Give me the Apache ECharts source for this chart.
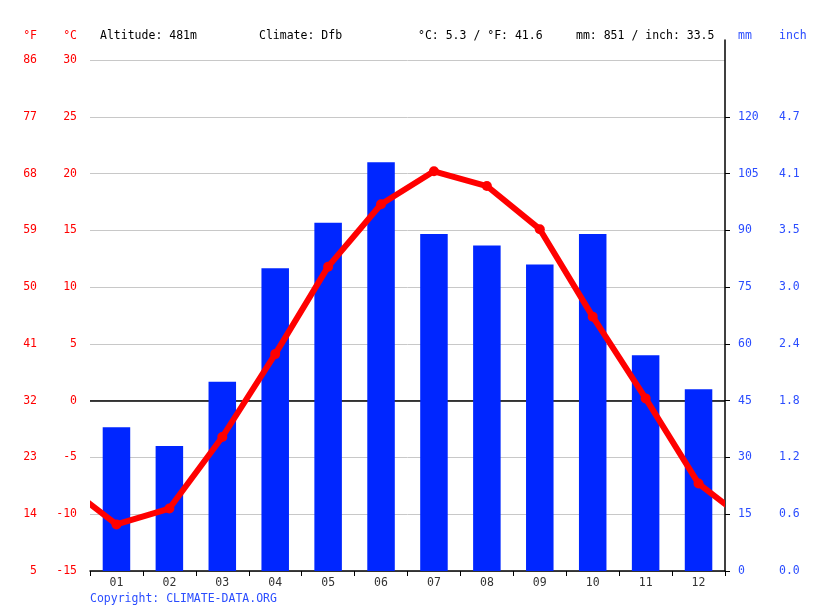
<!DOCTYPE html>
<html>
<head>
<meta charset="utf-8">
<style>
  html, body { margin: 0; padding: 0; background: #fff; }
  #chart { width: 815px; height: 611px; }
</style>
<script src="https://cdn.jsdelivr.net/npm/echarts@6/dist/echarts.min.js"></script>
</head>
<body>
<div id="chart"></div>
<script>
const months = ['01','02','03','04','05','06','07','08','09','10','11','12'];
const precipitationMm = [38, 33, 50, 80, 92, 108, 89, 86, 81, 89, 57, 48];
const temperatureC = [-10.9, -9.5, -3.2, 4.1, 11.8, 17.3, 20.2, 18.9, 15.1, 7.4, 0.2, -7.3];
const fahrenheitLabels = ['5','14','23','32','41','50','59','68','77','86'];
const celsiusLabels = ['-15','-10','-5','0','5','10','15','20','25','30'];
const mmLabels = ['0','15','30','45','60','75','90','105','120'];
const inchLabels = ['0.0','0.6','1.2','1.8','2.4','3.0','3.5','4.1','4.7'];
const headerTexts = ['Altitude: 481m', 'Climate: Dfb', '°C: 5.3 / °F: 41.6', 'mm: 851 / inch: 33.5'];
const copyrightText = 'Copyright: CLIMATE-DATA.ORG';

const FONT = 'DejaVu Sans Mono';
const FS = 11.5;
const RED = '#ff0000';
const BLUE = '#0026ff';
const LABEL_BLUE = '#2b4dff';
const LINE_W = 6;

// plot geometry
const GL = 90, GR = 90, GT = 60, GB = 40, W = 815;
const plotW = W - GL - GR;
const unitPx = plotW / 12;
const inset = LINE_W / 2; // the line's clip rect grows by half the line width; shrink its grid so it clips at the plot edge
const insetUnits = inset / unitPx;

// line points on a 0..12 value axis (category centres at i+0.5), wrapped with Dec before Jan and Jan after Dec, clipped at the edges
const linePoints = [[-0.5, temperatureC[11]]]
  .concat(temperatureC.map((t, i) => [i + 0.5, t]))
  .concat([[12.5, temperatureC[0]]]);

const chart = echarts.init(document.getElementById('chart'), null, { renderer: 'canvas' });

const font = FS + 'px "' + FONT + '"';
function txt(text, x, y, align, fill) {
  return { type: 'text', style: { text, x, y, align, verticalAlign: 'middle', fill, font } };
}

const option = {
  animation: false,
  backgroundColor: '#fff',
  textStyle: { fontFamily: FONT },
  grid: [
    { left: GL, right: GR, top: GT, bottom: GB },
    { left: GL, right: GR, top: 40, bottom: GB },
    { left: GL + inset, right: GR + inset, top: GT, bottom: GB }
  ],
  xAxis: [
    {
      type: 'category', gridIndex: 0, data: months, position: 'bottom',
      boundaryGap: true,
      axisLine: { show: true, onZero: false, lineStyle: { color: '#000', width: 1.5 } },
      axisTick: { show: true, length: 5, lineStyle: { color: '#000', width: 1 } },
      axisLabel: { color: '#333', fontFamily: FONT, fontSize: FS, margin: 6 },
      splitLine: { show: false }
    },
    { type: 'value', gridIndex: 1, min: 0, max: 1, show: false },
    { type: 'value', gridIndex: 2, min: insetUnits, max: 12 - insetUnits, show: false }
  ],
  yAxis: [
    {
      type: 'value', gridIndex: 0, position: 'left', min: -15, max: 30, interval: 5,
      axisLine: { show: false }, axisTick: { show: false },
      axisLabel: { color: RED, fontFamily: FONT, fontSize: FS, margin: 13,
        formatter: v => celsiusLabels[Math.round((v + 15) / 5)] },
      splitLine: { show: true, lineStyle: { color: '#c8c8c8', width: 1 } }
    },
    {
      type: 'value', gridIndex: 0, position: 'left', offset: 40, min: -15, max: 30, interval: 5,
      axisLine: { show: false }, axisTick: { show: false },
      axisLabel: { color: RED, fontFamily: FONT, fontSize: FS, margin: 13,
        formatter: v => fahrenheitLabels[Math.round((v + 15) / 5)] },
      splitLine: { show: false }
    },
    {
      type: 'value', gridIndex: 0, position: 'right', min: 0, max: 135, interval: 15,
      axisLine: { show: false },
      axisTick: { show: true, inside: false, length: 5, lineStyle: { color: '#000' },
        customValues: [0, 15, 30, 45, 60, 75, 90, 105, 120] },
      axisLabel: { color: LABEL_BLUE, fontFamily: FONT, fontSize: FS, margin: 13, showMaxLabel: false,
        formatter: v => { const s = mmLabels[Math.round(v / 15)]; return s === undefined ? '' : s; } },
      splitLine: { show: false }
    },
    {
      type: 'value', gridIndex: 0, position: 'right', offset: 41, min: 0, max: 135, interval: 15,
      axisLine: { show: false }, axisTick: { show: false },
      axisLabel: { color: LABEL_BLUE, fontFamily: FONT, fontSize: FS, margin: 13, showMaxLabel: false,
        formatter: v => { const s = inchLabels[Math.round(v / 15)]; return s === undefined ? '' : s; } },
      splitLine: { show: false }
    },
    {
      type: 'value', gridIndex: 1, position: 'right', min: 0, max: 1,
      axisLine: { show: true, onZero: false, lineStyle: { color: '#000', width: 1.5 } },
      axisTick: { show: false }, axisLabel: { show: false }, splitLine: { show: false }
    },
    {
      type: 'value', gridIndex: 2, min: -15, max: 30, interval: 5, show: false
    }
  ],
  series: [
    {
      name: 'zero', type: 'line', xAxisIndex: 0, yAxisIndex: 0, data: [], z: 1,
      markLine: {
        silent: true, symbol: 'none', z: 1, animation: false,
        label: { show: false },
        lineStyle: { color: '#000', width: 1.5, type: 'solid' },
        data: [{ yAxis: 0 }]
      }
    },
    {
      name: 'Precipitation', type: 'bar', xAxisIndex: 0, yAxisIndex: 2,
      data: precipitationMm, barWidth: '52%', z: 2,
      itemStyle: { color: BLUE }
    },
    {
      name: 'Temperature', type: 'line', xAxisIndex: 2, yAxisIndex: 5,
      data: linePoints, clip: true, z: 3,
      symbol: 'circle', symbolSize: 10, showSymbol: true,
      lineStyle: { color: RED, width: LINE_W, cap: 'butt' },
      itemStyle: { color: RED }
    }
  ],
  graphic: [
    txt('°F', 37, 36, 'right', RED),
    txt('°C', 77, 36, 'right', RED),
    txt(headerTexts[0], 100, 36, 'left', '#000'),
    txt(headerTexts[1], 259, 36, 'left', '#000'),
    txt(headerTexts[2], 418, 36, 'left', '#000'),
    txt(headerTexts[3], 576, 36, 'left', '#000'),
    txt('mm', 738, 36, 'left', LABEL_BLUE),
    txt('inch', 779, 36, 'left', LABEL_BLUE),
    txt(copyrightText, 90, 599, 'left', LABEL_BLUE)
  ]
};

chart.setOption(option);
</script>
</body>
</html>
